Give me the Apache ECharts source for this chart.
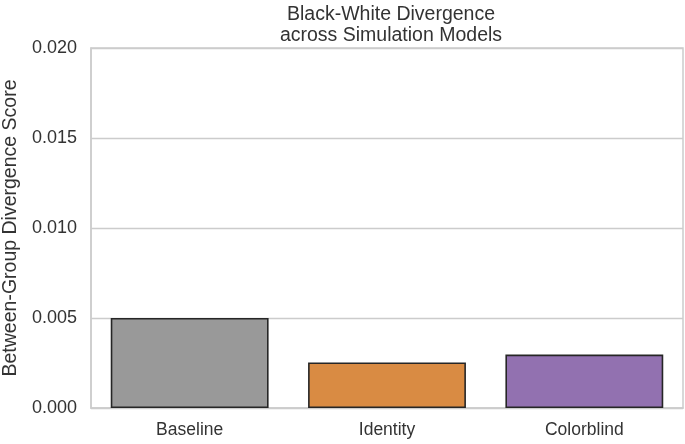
<!DOCTYPE html>
<html>
<head>
<meta charset="utf-8">
<script src="https://cdn.jsdelivr.net/npm/echarts@6/dist/echarts.min.js"></script>
<style>
html,body{margin:0;padding:0;background:#fff;}
#chart{width:685px;height:444px;}
</style>
</head>
<body>
<div id="chart"></div>
<script>
const categories = ['Baseline', 'Identity', 'Colorblind'];
const values = [0.0050, 0.00253, 0.00297];
const barColors = ['#999999', '#d98b43', '#9271b0'];
const yTicks = [0, 0.005, 0.010, 0.015, 0.020];

const chart = echarts.init(document.getElementById('chart'));
const font = '"Liberation Sans", Arial, sans-serif';
chart.setOption({
  backgroundColor: '#ffffff',
  animation: false,
  title: {
    text: 'Black-White Divergence\nacross Simulation Models',
    left: 386, top: -1, textAlign: 'center',
    textStyle: { fontFamily: font, fontSize: 19.5, fontWeight: 'normal', color: '#333333', lineHeight: 21 }
  },
  grid: { left: 91, right: 2, top: 48, bottom: 36, show: true, borderColor: '#cccccc', borderWidth: 1.5, containLabel: false, outerBoundsMode: 'none' },
  xAxis: {
    type: 'category', data: categories,
    axisLine: { show: true, lineStyle: { color: '#cccccc', width: 1.5 } },
    axisTick: { show: false },
    axisLabel: { fontFamily: font, fontSize: 17.5, color: '#333333', margin: 13 }
  },
  yAxis: {
    type: 'value', min: 0, max: yTicks[yTicks.length - 1], interval: 0.005,
    name: 'Between-Group Divergence Score', nameLocation: 'middle', nameGap: 66,
    nameTextStyle: { fontFamily: font, fontSize: 19.5, color: '#333333' },
    axisLine: { show: true, lineStyle: { color: '#cccccc', width: 1.5 } },
    axisTick: { show: false },
    splitLine: { lineStyle: { color: '#cccccc', width: 1.3 } },
    axisLabel: { fontFamily: font, fontSize: 18, color: '#333333', margin: 14, formatter: v => v.toFixed(3) }
  },
  series: [{
    type: 'bar', barCategoryGap: '20%',
    data: values.map((v, i) => ({ value: v, itemStyle: { color: barColors[i] } })),
    itemStyle: { borderColor: '#262626', borderWidth: 1.6 }
  }]
});
</script>
</body>
</html>
